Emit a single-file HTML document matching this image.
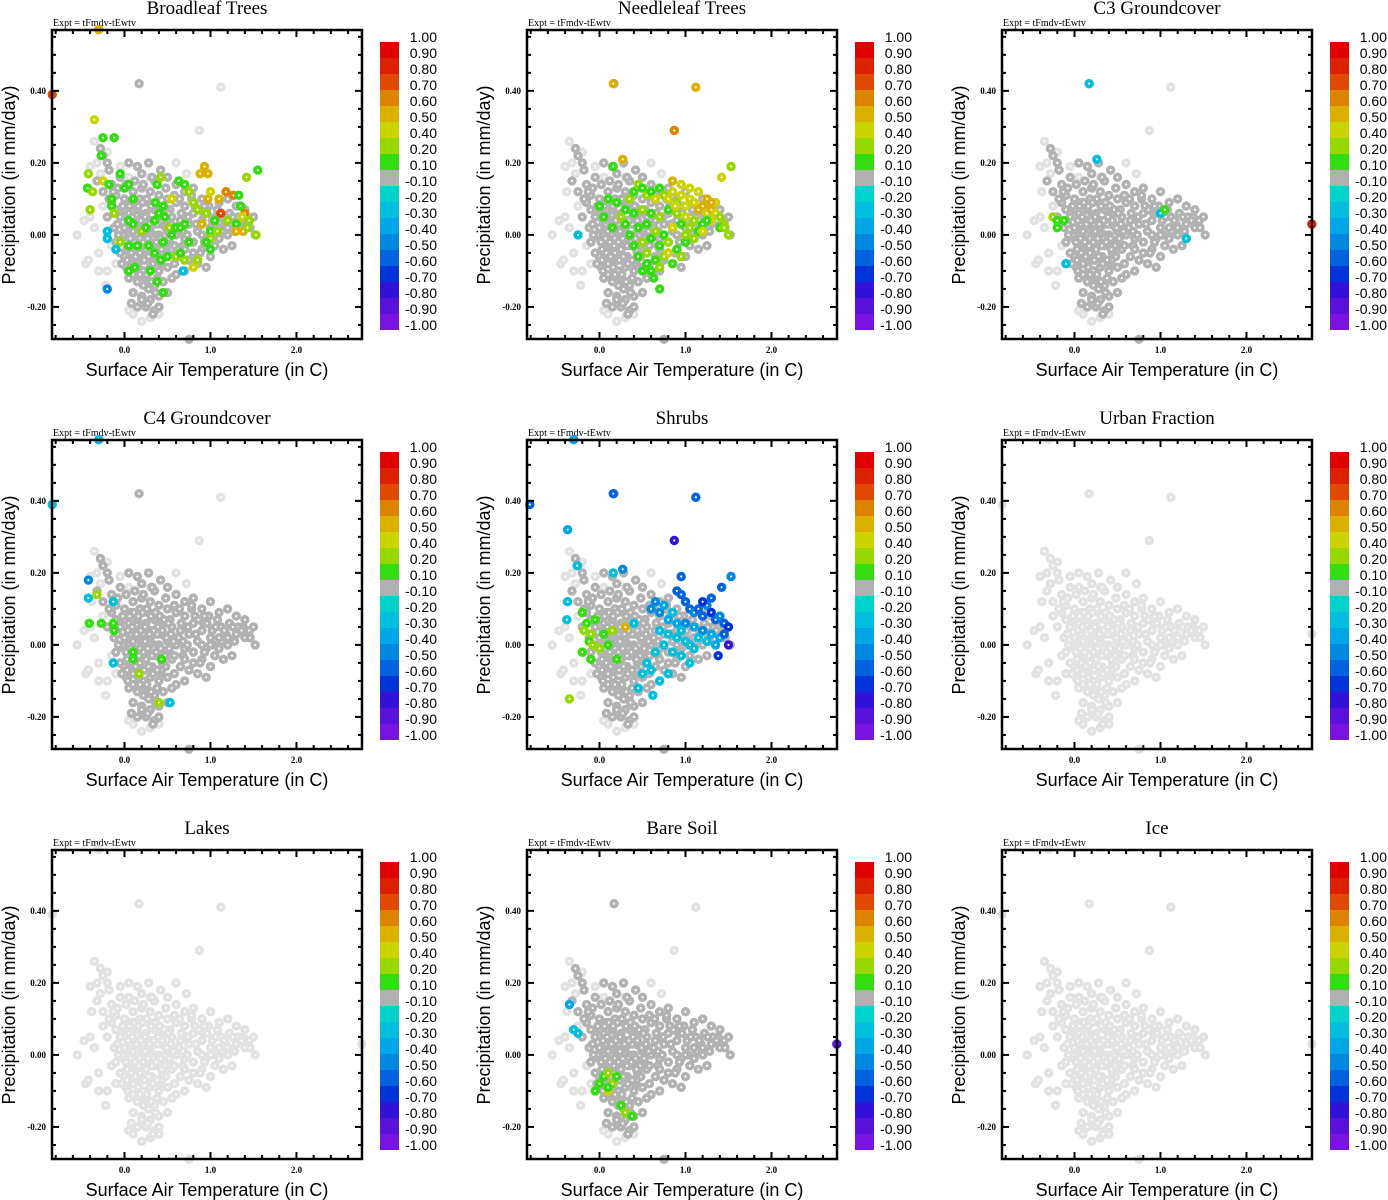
<!DOCTYPE html>
<html><head><meta charset="utf-8">
<style>
html,body{margin:0;padding:0;background:#fff;}
svg{display:block;}
.ttl{font-family:"Liberation Serif",serif;font-size:19px;}
.expt{font-family:"Liberation Serif",serif;font-size:10px;}
.tick{font-family:"Liberation Serif",serif;font-size:9px;font-weight:bold;}
.axl{font-family:"Liberation Sans",sans-serif;font-size:18px;}
.cb{font-family:"Liberation Sans",sans-serif;font-size:14px;}
</style></head>
<body>
<svg id="fig" width="1388" height="1200" xmlns="http://www.w3.org/2000/svg"></svg>
<script>
// ---- data ----
const panelTitles=["Broadleaf Trees","Needleleaf Trees","C3 Groundcover","C4 Groundcover","Shrubs","Urban Fraction","Lakes","Bare Soil","Ice"];
const cbLabels=["1.00","0.90","0.80","0.70","0.60","0.50","0.40","0.20","0.10","-0.10","-0.20","-0.30","-0.40","-0.50","-0.60","-0.70","-0.80","-0.90","-1.00"];
const cbColors=["#e00000","#dc2000","#e04a00","#dc8400","#dcb000","#ccd400","#96d800","#33dd11","#b0b0b0","#00d2cc","#00bede","#00a6e6","#0088e0","#0062dc","#0034d8","#3212d8","#5a12da","#7a12e0"];
const cbLower=[0.9,0.8,0.7,0.6,0.5,0.4,0.2,0.1,-0.1,-0.2,-0.3,-0.4,-0.5,-0.6,-0.7,-0.8,-0.9,-99];
const xTicks=[0,1,2];
const xTickLabels=["0.0","1.0","2.0"];
const yTicks=[-0.2,0,0.2,0.4];
const yTickLabels=["-0.20","0.00","0.20","0.40"];
// shared gray cloud
const cloudX=[-0.28,-0.25,-0.2,-0.18,-0.32,-0.25,-0.15,-0.1,-0.05,0.05,0.15,0.2,0.28,0.35,0.42,0.5,0.6,0.7,0.8,0.9,1.0,1.1,1.2,1.3,1.4,1.45,1.5,1.52,1.4,1.3,1.2,1.1,1.0,0.9,0.8,0.7,0.6,0.5,0.4,0.3,0.2,0.1,0.0,-0.1,-0.2,-0.05,0.05,0.15,0.25,0.35,0.45,0.55,0.65,0.75,0.85,0.95,1.05,1.15,1.25,0.0,0.1,0.2,0.3,0.4,0.5,0.6,0.7,0.8,0.9,1.0,0.05,0.15,0.25,0.35,0.45,0.55,0.65,0.75,0.85,0.95,0.0,0.1,0.2,0.3,0.4,0.5,0.6,0.7,0.05,0.15,0.25,0.35,0.45,0.55,0.1,0.2,0.3,0.4,0.5,0.25,0.35,0.15,0.08,0.4,-0.1,-0.05,0.12,0.22,0.32,0.42,0.52,0.62,0.72,0.82,0.92,1.02,1.12,1.22,1.32,-0.15,-0.08,0.02,0.08,0.18,0.28,0.38,0.48,0.58,0.68,0.78,0.88,0.98,1.08,1.18,1.28,1.38,0.02,0.12,0.22,0.32,0.42,0.28,0.18,0.38,0.48,0.58,0.1,0.2,0.3,0.0,0.05,0.15,0.25,0.35,0.45,0.17,0.75,0.08,0.18,0.28,0.38,0.48,0.58,0.68,0.03,0.13,0.23,0.33,0.43,0.53,0.63,0.73,0.83,0.93,1.03,1.13,-0.02,0.07,0.14,0.24,0.34,0.44,
0.04,0.09,0.14,0.19,0.24,0.29,0.34,0.39,0.44,0.49,0.54,0.02,0.07,0.12,0.17,0.22,0.27,0.32,0.37,0.42,0.47,0.52,0.57,0.0,0.06,0.11,0.16,0.21,0.26,0.31,0.36,0.41,0.46,0.51,-0.03,0.03,0.08,0.13,0.18,0.23,0.28,0.33,0.38,0.43,-0.12,-0.07,-0.02,0.04,0.1,0.16,0.22,0.26,0.31,0.36,0.66,0.74,0.86,0.96,1.06,1.16,1.26,1.36,1.46,0.7,0.8,0.9,1.0,1.1,1.2,0.64,0.78,0.93,-0.18,-0.13,-0.08,0.12,0.22,0.32,0.2,0.27,0.33];
const cloudY=[0.24,0.22,0.2,0.18,0.15,0.12,0.14,0.11,0.16,0.2,0.19,0.17,0.2,0.15,0.18,0.16,0.14,0.12,0.13,0.1,0.12,0.09,0.1,0.08,0.07,0.04,0.05,0.0,0.02,0.03,0.0,-0.01,0.02,0.04,0.06,0.08,0.09,0.1,0.11,0.12,0.13,0.12,0.1,0.07,0.05,0.05,0.06,0.07,0.06,0.07,0.06,0.05,0.04,0.03,0.01,-0.01,-0.03,-0.04,-0.03,0.02,0.01,0.0,0.02,0.0,0.01,0.0,-0.01,-0.02,-0.04,-0.06,-0.03,-0.02,-0.04,-0.03,-0.05,-0.04,-0.06,-0.07,-0.08,-0.09,-0.06,-0.08,-0.07,-0.09,-0.1,-0.09,-0.11,-0.1,-0.12,-0.13,-0.12,-0.14,-0.13,-0.12,-0.16,-0.17,-0.18,-0.17,-0.16,-0.2,-0.21,-0.2,-0.19,-0.2,-0.02,-0.05,0.04,0.03,-0.01,0.03,-0.02,0.02,0.05,0.08,0.06,0.04,0.05,0.06,0.05,0.09,0.13,0.14,0.09,0.1,0.09,0.04,0.13,0.11,-0.03,0.1,-0.05,0.08,0.07,0.03,0.01,0.05,-0.09,-0.05,-0.1,-0.06,-0.08,-0.15,-0.11,-0.12,-0.06,-0.08,-0.01,0.05,0.04,-0.01,0.0,0.02,0.01,0.0,-0.02,0.42,-0.29,0.03,-0.01,-0.02,0.03,0.02,-0.03,0.01,-0.04,-0.06,0.05,0.08,-0.07,0.07,0.02,0.0,0.03,-0.02,0.0,0.01,0.0,0.03,-0.03,0.01,-0.01,-0.05,
0.04,0.05,0.03,0.04,0.05,0.03,0.04,0.05,0.04,0.02,0.03,-0.02,-0.01,-0.02,-0.03,-0.02,-0.01,-0.03,-0.02,-0.01,-0.03,-0.01,0.01,0.07,0.08,0.09,0.08,0.09,0.1,0.08,0.09,0.08,0.07,0.06,-0.08,-0.07,-0.05,-0.06,-0.05,-0.07,-0.06,-0.08,-0.07,-0.04,0.02,0.0,0.08,-0.1,-0.11,-0.09,-0.14,-0.11,-0.13,-0.16,0.06,0.05,0.07,0.06,0.05,0.04,0.05,0.04,0.02,-0.04,-0.05,0.0,0.0,0.02,0.02,0.1,0.11,0.08,0.1,0.12,0.03,0.15,0.14,0.16,-0.18,-0.19,-0.22];
// shared light-gray points
const lightX=[-0.55,-0.4,-0.45,-0.42,-0.3,-0.35,-0.38,-0.4,-0.28,-0.2,-0.15,-0.25,-0.3,-0.1,-0.05,0.1,0.2,0.05,0.3,0.4,0.3,0.05,1.12,0.87,-0.35,-0.2,-0.32,-0.22,0.6,0.72,-0.47,-0.12];
const lightY=[0.0,0.05,-0.08,-0.07,-0.05,0.02,0.12,0.19,0.17,-0.1,-0.03,0.08,-0.1,-0.08,0.19,-0.22,-0.24,-0.21,-0.23,-0.22,0.16,0.16,0.41,0.29,0.26,0.23,0.2,-0.14,0.2,0.17,0.04,0.02];
// per-panel coloured points
const p1X=[-0.84,-0.3,-0.35,-0.25,-0.12,-0.27,-0.42,-0.25,-0.43,-0.37,-0.4,-0.18,-0.15,-0.15,-0.12,-0.05,0.0,0.05,0.1,0.05,0.1,0.05,0.2,0.15,-0.05,0.36,0.38,0.42,0.45,0.55,0.4,0.35,0.47,0.52,0.55,0.6,0.65,0.7,0.63,0.7,0.75,0.8,0.85,0.95,0.9,0.97,0.93,0.97,0.88,1.0,1.1,1.18,1.27,1.33,1.35,1.12,1.05,1.2,1.3,1.3,1.4,1.37,1.45,1.38,1.43,1.53,1.42,1.55,1.0,1.0,1.08,0.45,0.35,0.28,0.42,0.5,0.6,0.7,0.8,0.85,0.75,0.65,0.05,0.12,0.38,0.45,-0.2,-0.2,-0.1,-0.2,0.68,0.95,1.0,0.25,0.3];
const p1Y=[0.39,0.57,0.32,0.27,0.27,0.22,0.17,0.15,0.13,0.12,0.07,0.14,0.1,0.08,0.06,0.17,0.13,0.14,0.1,0.04,0.03,-0.03,0.01,-0.03,-0.02,0.09,0.14,0.16,0.08,0.1,0.06,0.04,0.05,0.02,0.0,0.02,0.02,0.03,0.15,0.14,0.12,0.09,0.07,0.06,0.03,0.1,0.19,0.17,0.17,0.12,0.1,0.12,0.11,0.11,0.08,0.06,0.04,0.04,0.03,0.01,0.06,0.05,0.04,0.01,0.02,0.0,0.16,0.18,0.01,-0.01,0.01,-0.02,-0.05,-0.03,-0.07,-0.06,-0.06,-0.07,-0.09,-0.07,-0.02,-0.05,-0.1,-0.09,-0.13,-0.16,0.01,-0.01,-0.04,-0.15,-0.1,-0.02,-0.04,0.02,-0.1];
const p1V=[0.75,0.5,0.4,0.15,0.15,0.15,0.3,0.4,0.15,0.3,0.3,0.15,0.15,0.15,0.3,0.15,0.15,0.15,0.15,0.15,0.15,0.15,0.3,0.15,0.3,0.15,0.15,0.3,0.15,0.4,0.15,0.15,0.15,0.3,0.15,0.15,0.15,0.15,0.15,0.15,0.3,0.3,0.3,0.3,0.55,0.55,0.55,0.55,0.5,0.45,0.55,0.6,0.6,0.15,0.15,0.7,0.15,0.3,0.15,0.5,0.6,0.4,0.3,0.55,0.3,0.3,0.3,0.15,0.15,0.3,0.3,0.15,0.15,0.15,0.15,0.15,0.3,0.3,0.4,0.3,0.15,0.15,0.15,0.15,0.15,0.15,-0.25,-0.25,-0.25,-0.5,-0.25,0.15,0.15,0.15,0.15];
const p2X=[0.16,1.12,0.87,0.27,0.16,1.53,1.42,-0.25,0.3,0.35,0.4,0.45,0.5,0.55,0.6,0.65,0.7,0.75,0.8,0.85,0.9,0.95,1.0,1.05,1.1,1.15,1.2,1.25,1.3,1.35,1.4,1.45,1.5,0.3,0.4,0.5,0.6,0.7,0.8,0.9,1.0,1.1,1.2,1.3,1.4,0.35,0.45,0.55,0.65,0.75,0.85,0.95,1.05,1.15,1.25,0.4,0.5,0.6,0.7,0.8,0.9,1.0,0.45,0.55,0.65,0.75,0.85,0.95,0.6,0.7,0.5,0.63,0.7,0.0,0.05,0.1,0.2,0.25,0.15,0.95,1.05,1.15,1.25,1.35,1.0,1.1,1.2,0.55,0.8,0.88,1.3,1.45,0.85];
const p2Y=[0.42,0.41,0.29,0.21,0.19,0.19,0.16,0.0,0.07,0.1,0.12,0.14,0.13,0.11,0.12,0.1,0.13,0.11,0.1,0.12,0.09,0.11,0.08,0.1,0.09,0.07,0.08,0.06,0.07,0.06,0.05,0.03,0.0,0.03,0.06,0.07,0.06,0.05,0.07,0.06,0.05,0.04,0.03,0.04,0.02,0.0,0.02,0.03,0.01,0.0,0.02,0.03,0.02,0.01,0.04,-0.03,-0.02,-0.01,-0.03,-0.02,-0.04,-0.02,-0.06,-0.05,-0.07,-0.06,-0.08,-0.06,-0.1,-0.09,-0.1,-0.12,-0.15,0.08,0.05,0.1,0.09,0.05,0.02,0.14,0.13,0.12,0.1,0.09,0.0,-0.01,0.01,-0.08,-0.05,0.08,0.09,0.02,0.15];
const p2V=[0.5,0.5,0.6,0.5,0.15,0.3,0.4,-0.25,0.15,0.3,0.15,0.3,0.15,0.3,0.15,0.4,0.15,0.3,0.45,0.4,0.3,0.45,0.4,0.45,0.4,0.5,0.55,0.45,0.5,0.4,0.3,0.3,0.3,0.15,0.15,0.3,0.15,0.3,0.15,0.3,0.4,0.3,0.15,0.4,0.15,0.15,0.15,0.15,0.3,0.15,0.4,0.15,0.3,0.15,0.15,0.15,0.3,0.15,0.15,0.3,0.15,0.15,0.15,0.3,0.15,0.3,0.15,0.3,0.15,0.3,0.15,0.15,0.15,0.15,0.15,0.15,0.15,0.3,0.15,0.45,0.4,0.45,0.5,0.4,0.3,0.3,0.4,0.15,0.4,0.45,0.55,0.3,0.5];
const p3X=[2.76,0.17,0.26,-0.25,-0.2,-0.12,-0.2,-0.1,1.3,1.0,1.05];
const p3Y=[0.03,0.42,0.21,0.05,0.04,0.04,0.02,-0.08,-0.01,0.06,0.07];
const p3V=[0.8,-0.25,-0.25,0.3,0.15,0.15,0.15,-0.25,-0.25,-0.25,0.15];
const p4X=[-0.84,-0.3,-0.42,-0.42,-0.32,-0.41,-0.27,-0.13,-0.12,0.1,0.1,0.43,0.17,0.4,-0.13,0.53,-0.13];
const p4Y=[0.39,0.57,0.18,0.13,0.14,0.06,0.06,0.06,0.04,-0.02,-0.04,-0.04,-0.08,-0.16,-0.05,-0.16,0.12];
const p4V=[-0.3,-0.3,-0.45,-0.25,0.3,0.15,0.15,0.15,0.15,0.15,0.15,0.15,0.3,0.3,-0.25,-0.25,-0.25];
const p5X=[0.16,1.12,0.87,-0.37,-0.81,-0.3,0.27,0.16,1.53,1.42,0.95,0.9,0.95,-0.26,-0.38,-0.37,-0.2,-0.15,-0.1,-0.05,-0.18,-0.12,-0.08,0.0,0.05,0.1,0.15,-0.2,-0.1,0.2,0.3,-0.35,1.0,1.05,1.1,1.15,1.2,1.25,1.3,1.35,1.4,1.45,1.5,1.0,1.1,1.2,1.3,1.4,1.45,1.35,1.25,1.15,1.05,0.6,0.65,0.7,0.75,0.8,0.85,0.9,0.95,0.7,0.8,0.9,1.0,1.1,0.95,1.05,0.55,0.65,0.75,0.85,0.5,0.6,0.7,1.2,1.3,1.5,1.38,0.45,0.62,0.8,0.4];
const p5Y=[0.42,0.41,0.29,0.32,0.39,0.57,0.21,0.2,0.19,0.16,0.19,0.15,0.14,0.22,0.07,0.12,0.09,0.06,0.03,0.07,0.04,0.01,0.0,-0.01,0.03,0.0,0.04,-0.02,-0.04,-0.04,0.05,-0.15,0.12,0.1,0.09,0.1,0.08,0.11,0.09,0.07,0.08,0.06,0.05,0.06,0.05,0.04,0.03,0.02,0.03,0.0,0.01,0.02,0.0,0.1,0.12,0.09,0.11,0.07,0.09,0.06,0.04,0.04,0.03,0.02,0.01,-0.01,-0.03,-0.05,-0.05,-0.02,0.0,-0.02,-0.08,-0.07,-0.1,0.12,0.13,0.0,-0.03,-0.12,-0.14,-0.08,0.06];
const p5V=[-0.6,-0.6,-0.75,-0.4,-0.6,-0.35,-0.5,-0.25,-0.5,-0.6,-0.6,-0.6,-0.6,-0.25,-0.25,-0.3,0.15,0.15,0.3,0.15,0.3,0.15,0.3,0.3,0.15,0.15,0.3,0.15,0.15,0.15,0.55,0.3,-0.55,-0.6,-0.5,-0.55,-0.6,-0.5,-0.65,-0.6,-0.5,-0.55,-0.65,-0.45,-0.4,-0.45,-0.35,-0.4,-0.55,-0.35,-0.3,-0.25,-0.3,-0.45,-0.5,-0.45,-0.4,-0.35,-0.3,-0.35,-0.3,-0.25,-0.25,-0.3,-0.25,-0.25,-0.3,-0.25,-0.25,-0.3,-0.25,-0.3,-0.25,-0.3,-0.25,-0.7,-0.6,-0.75,-0.65,-0.3,-0.25,-0.3,-0.25];
const p8X=[2.76,-0.3,-0.35,-0.25,0.05,0.1,0.0,-0.05,0.1,0.15,0.2,0.25,0.3,0.38,0.1];
const p8Y=[0.03,0.07,0.14,0.06,-0.06,-0.05,-0.08,-0.1,-0.1,-0.08,-0.06,-0.14,-0.16,-0.17,-0.09];
const p8V=[-0.85,-0.25,-0.35,-0.3,0.15,0.3,0.15,0.15,0.4,0.3,0.15,0.15,0.3,0.15,0.15];
const panelPts=[[p1X,p1Y,p1V],[p2X,p2Y,p2V],[p3X,p3Y,p3V],[p4X,p4Y,p4V],[p5X,p5Y,p5V],null,null,[p8X,p8Y,p8V],null];

// ---- drawing ----
const NS="http://www.w3.org/2000/svg";
const fig=document.getElementById('fig');
function mk(tag,attrs,parent,txt){const e=document.createElementNS(NS,tag);for(const k in attrs)e.setAttribute(k,attrs[k]);if(txt!==undefined)e.textContent=txt;parent.appendChild(e);return e;}
function colorOf(v){for(let i=0;i<cbLower.length;i++){if(v>=cbLower[i])return cbColors[i];}return cbColors[cbColors.length-1];}
const X0=52,X1=362,Y0=30,Y1=339;
const xMin=-0.843,xMax=2.762,yMin=-0.289,yMax=0.569;
function sx(v){return X0+(v-xMin)/(xMax-xMin)*(X1-X0);}
function sy(v){return Y1-(v-yMin)/(yMax-yMin)*(Y1-Y0);}
function dot(g,x,y,c){const el=mk('circle',{cx:sx(x),cy:sy(y),r:2.9,fill:'#fff',stroke:c,'stroke-width':3.6},g);

}

for(let p=0;p<9;p++){
  const col=p%3,row=Math.floor(p/3);
  const g=mk('g',{transform:`translate(${col*475},${row*410})`},fig);
  
  
  const t=mk('text',{x:207,y:14,'text-anchor':'middle',class:'ttl'},g,panelTitles[p]);
  
  const ex=mk('text',{x:53,y:26,class:'expt'},g,'Expt = tFmdv-tEwtv');
  
  const pts=mk('g',{},g);
  
  const lightAll=(p===5||p===6||p===8);
  for(let i=0;i<lightX.length;i++)dot(pts,lightX[i],lightY[i],'#e2e2e2');
  const base=lightAll?'#e2e2e2':'#b2b2b2';
  for(let i=0;i<cloudX.length;i++)dot(pts,cloudX[i],cloudY[i],base);
  if(panelPts[p]){const [xs,ys,vs]=panelPts[p];for(let i=0;i<xs.length;i++)dot(pts,xs[i],ys[i],colorOf(vs[i]));}
  else{dot(pts,-0.84,0.39,'#e2e2e2');dot(pts,-0.3,0.57,'#e2e2e2');dot(pts,2.76,0.03,'#e2e2e2');}
  // frame
  const fr=mk('rect',{x:X0,y:Y0,width:X1-X0,height:Y1-Y0,fill:'none',stroke:'#000','stroke-width':2.5},g);
  
  for(let v=-0.8;v<=2.75;v+=0.2){const vv=Math.round(v*10)/10;const maj=Math.abs(vv-Math.round(vv))<1e-6;const L=maj?7:4;
    mk('line',{x1:sx(vv),x2:sx(vv),y1:Y1,y2:Y1-L,stroke:'#000','stroke-width':2},g);
    mk('line',{x1:sx(vv),x2:sx(vv),y1:Y0,y2:Y0+L,stroke:'#000','stroke-width':2},g);}
  for(let i=0;i<xTicks.length;i++){const tl=mk('text',{x:sx(xTicks[i]),y:Y1+14,'text-anchor':'middle',class:'tick'},g,xTickLabels[i]);
    }
  for(let v=-0.25;v<=0.56;v+=0.05){const vv=Math.round(v*100)/100;const maj=Math.abs(vv*5-Math.round(vv*5))<1e-6;const L=maj?7:4;
    mk('line',{x1:X0,x2:X0+L,y1:sy(vv),y2:sy(vv),stroke:'#000','stroke-width':2},g);
    mk('line',{x1:X1,x2:X1-L,y1:sy(vv),y2:sy(vv),stroke:'#000','stroke-width':2},g);}
  for(let i=0;i<yTicks.length;i++){const tl=mk('text',{x:X0-6,y:sy(yTicks[i])+3,'text-anchor':'end',class:'tick'},g,yTickLabels[i]);
    }
  const xl=mk('text',{x:207,y:376,'text-anchor':'middle',class:'axl'},g,'Surface Air Temperature (in C)');
  
  const yl=mk('text',{x:0,y:0,'text-anchor':'middle',class:'axl',transform:'translate(15,185) rotate(-90)'},g,'Precipitation (in mm/day)');
  
  const cb=mk('g',{},g);
  
  for(let i=0;i<cbColors.length;i++){const r=mk('rect',{x:380,y:42+16*i,width:19,height:16,fill:cbColors[i]},cb);
    }
  for(let i=0;i<cbLabels.length;i++){const tl=mk('text',{x:437,y:42+16*i,'text-anchor':'end',class:'cb'},cb,cbLabels[i]);
    }
}
</script>
</body></html>
